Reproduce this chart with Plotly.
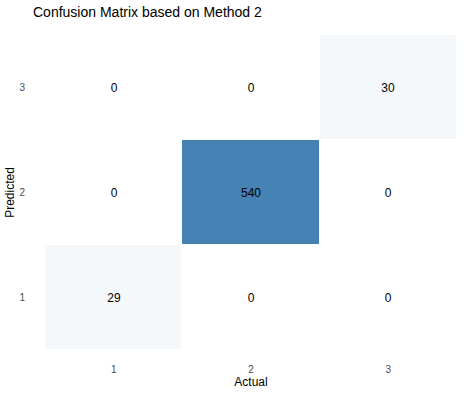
import plotly.graph_objects as go

actual_labels = ["1", "2", "3"]
predicted_labels = ["1", "2", "3"]
# rows = predicted (1..3), cols = actual (1..3)
counts = [
    [29, 0, 0],
    [0, 540, 0],
    [0, 0, 30],
]

fig = go.Figure(go.Heatmap(
    z=counts,
    x=actual_labels,
    y=predicted_labels,
    colorscale=[[0, "#ffffff"], [1, "#4682B4"]],
    zmin=0, zmax=540,
    showscale=False,
    xgap=1, ygap=1,
    texttemplate="%{z}",
    textfont=dict(size=12, color="black", family="Liberation Sans"),
    hoverinfo="skip",
))

fig.update_layout(
    width=476, height=397,
    margin=dict(l=45, r=19, t=35, b=47, autoexpand=False),
    paper_bgcolor="white", plot_bgcolor="white",
    font=dict(family="Liberation Sans, Arial, sans-serif", size=12, color="black"),
    title=dict(text="Confusion Matrix based on Method 2", x=33/476, xanchor="left",
               xref="container", y=1 - 12/397, yref="container", yanchor="middle",
               automargin=False,
               font=dict(size=14, color="black")),
)
fig.update_xaxes(type="category", showgrid=False, zeroline=False, showline=False,
                 automargin=False,
                 ticks="", tickfont=dict(size=10, color="#4d4d4d"), ticklabelstandoff=12,
                 title=dict(text="Actual", font=dict(size=12), standoff=2))
fig.update_yaxes(type="category", showgrid=False, zeroline=False, showline=False,
                 automargin=False,
                 ticks="", tickfont=dict(size=10, color="#4d4d4d"), ticklabelstandoff=19,
                 title=dict(text="Predicted", font=dict(size=12), standoff=2))

fig.write_html("out.html", config={"displayModeBar": False},
               post_script="document.body.style.margin='0';")
